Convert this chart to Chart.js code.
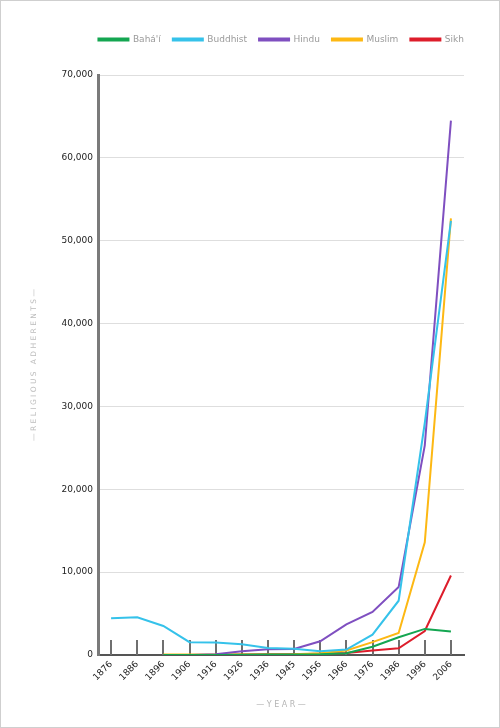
<!DOCTYPE html>
<html>
<head>
<meta charset="utf-8">
<script src="https://cdn.jsdelivr.net/npm/chart.js@4"></script>
<style>
  html, body { margin: 0; padding: 0; background: #fff; }
  #wrap { width: 500px; height: 728px; box-sizing: border-box; border: 1px solid #cfcfcf; }
</style>
</head>
<body>
<div id="wrap"><canvas id="chart" width="498" height="726"></canvas></div>
<script>
const years = ['1876', '1886', '1896', '1906', '1916', '1926', '1936', '1945', '1956', '1966', '1976', '1986', '1996', '2006'];
const bahai = [null, null, 0, 0, 10, 30, 50, 70, 100, 200, 1000, 2150, 3150, 2850];
const buddhist = [4450, 4550, 3500, 1550, 1500, 1300, 850, 750, 450, 650, 2450, 6550, 28000, 52400];
const hindu = [null, null, 0, 0, 100, 450, 680, 720, 1650, 3700, 5200, 8200, 25300, 64500];
const muslim = [null, null, 50, 50, 50, 50, 50, 80, 200, 550, 1550, 2650, 13600, 52700];
const sikh = [null, null, 0, 0, 0, 50, 80, 100, 150, 250, 550, 800, 2900, 9600];
const yTicks = [0, 10000, 20000, 30000, 40000, 50000, 60000, 70000];

function series(label, data, color) {
  return {
    label: label,
    data: data,
    borderColor: color,
    backgroundColor: color,
    borderWidth: 2,
    pointRadius: 0,
    pointHoverRadius: 0,
    tension: 0,
    spanGaps: false
  };
}

// short vertical marks standing up from the x axis
const upTicks = {
  id: 'upTicks',
  beforeDatasetsDraw(chart) {
    const x = chart.scales.x;
    const ctx = chart.ctx;
    const bottom = chart.chartArea.bottom;
    ctx.save();
    ctx.strokeStyle = '#6f6f6f';
    ctx.lineWidth = 2;
    for (let i = 0; i < years.length; i++) {
      const px = Math.round(x.getPixelForTick(i));
      ctx.beginPath();
      ctx.moveTo(px, bottom);
      ctx.lineTo(px, bottom - 15);
      ctx.stroke();
    }
    ctx.restore();
  }
};

// more room under the legend, and push it flush with the plot's right edge
const legendSpace = {
  id: 'legendSpace',
  beforeInit(chart) {
    const legend = chart.legend;
    const fit = legend.fit;
    const draw = legend.draw;
    legend.fit = function () {
      fit.call(legend);
      this.height += 21;
    };
    legend.draw = function () {
      const shift = legend.options.labels.padding;
      chart.ctx.save();
      chart.ctx.translate(shift, 0);
      draw.call(legend);
      chart.ctx.restore();
    };
  }
};

Chart.defaults.font.family = '"DejaVu Sans", Verdana, sans-serif';

new Chart(document.getElementById('chart'), {
  type: 'line',
  data: {
    labels: years,
    datasets: [
      series('Bahá\'í', bahai, '#14a651'),
      series('Buddhist', buddhist, '#35c2ea'),
      series('Hindu', hindu, '#7f4fc0'),
      series('Muslim', muslim, '#fdb813'),
      series('Sikh', sikh, '#dd1d2b')
    ]
  },
  options: {
    responsive: false,
    animation: false,
    layout: { padding: { left: 29, right: 35, top: 22, bottom: 17 } },
    plugins: {
      tooltip: { enabled: false },
      legend: {
        position: 'top',
        align: 'end',
        labels: {
          boxWidth: 30,
          boxHeight: 2,
          padding: 12,
          color: '#9a9a9a',
          font: { size: 9 }
        }
      }
    },
    scales: {
      x: {
        offset: true,
        grid: { display: false, drawTicks: false },
        border: { display: true, color: '#555', width: 2 },
        ticks: {
          color: '#222',
          font: { size: 9 },
          maxRotation: 45,
          minRotation: 45,
          padding: 4,
          autoSkip: false
        },
        title: {
          display: true,
          text: '— Y E A R —',
          color: '#b5b5b5',
          font: { size: 8 },
          padding: { top: 4, bottom: 0 }
        },
        afterFit(scale) { scale.height = 55; }
      },
      y: {
        min: 0,
        max: 70000,
        afterBuildTicks(scale) { scale.ticks = yTicks.map(v => ({ value: v })); },
        grid: { color: '#dedede', lineWidth: 1, drawTicks: false },
        border: { display: true, color: '#7a7a7a', width: 3 },
        ticks: {
          color: '#222',
          font: { size: 9 },
          padding: 5
        },
        title: {
          display: true,
          text: '— R E L I G I O U S   A D H E R E N T S —',
          color: '#bcbcbc',
          font: { size: 7.5 },
          padding: { top: 0, bottom: 0 }
        },
        afterFit(scale) { scale.width = 68; }
      }
    }
  },
  plugins: [upTicks, legendSpace]
});
</script>
</body>
</html>
